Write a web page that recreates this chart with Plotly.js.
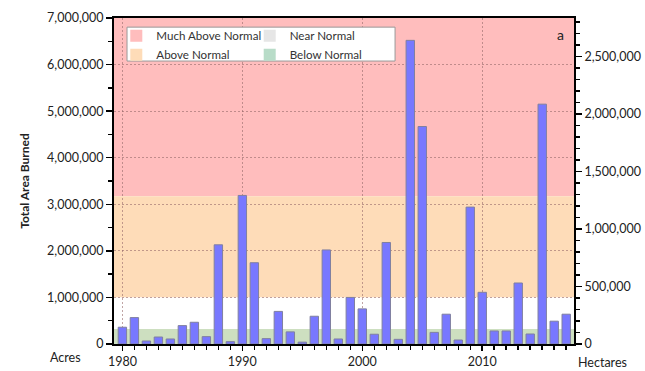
<!DOCTYPE html>
<html><head><meta charset="utf-8">
<script src="https://cdn.plot.ly/plotly-3.0.1.min.js"></script>
<style>html,body{margin:0;padding:0;background:#fff}#chart{width:645px;height:371px}</style>
</head><body><div id="chart"></div>
<script>
const years = [1980,1981,1982,1983,1984,1985,1986,1987,1988,1989,1990,1991,1992,1993,1994,1995,1996,1997,1998,1999,2000,2001,2002,2003,2004,2005,2006,2007,2008,2009,2010,2011,2012,2013,2014,2015,2016,2017];
const acres = [360000,567000,65000,150000,108000,395000,467000,158000,2130000,50000,3190000,1745000,115000,700000,260000,40000,596000,2020000,108000,1000000,754000,210000,2180000,100000,6520000,4670000,250000,640000,86000,2940000,1110000,280000,280000,1310000,215000,5150000,490000,640000];
const bandNames = ["Much Above Normal","Above Normal","Near Normal","Below Normal"];
const bandColors = ["#ffbdbd","#fedcb8","#e6e6e6","#b8dcc8"];
const bandLegend = ["legend","legend","legend2","legend2"];
const bandLow = [3170000, 1000000, 320000, 0];
const bandHigh = [7000000, 3170000, 1000000, 320000];
const bandFill = ["#ffbdbd","#fedcb8","#ffffff","#cddfc0"];
const ACRES_PER_HA = 2.47105;
const yMax = 7000000;

const traces = [];
bandNames.forEach((n,i)=>{
  traces.push({type:'bar', x:[null], y:[null], name:n, legend:bandLegend[i], marker:{color:bandColors[i]}, showlegend:true, hoverinfo:'skip'});
});
traces.push({type:'bar', x:years, y:acres, width:0.7, showlegend:false,
  marker:{color:'#7878ff', line:{color:'#8080a0', width:1}}});
traces.push({type:'scatter', x:[years[0]], y:[0], yaxis:'y2', mode:'markers', marker:{opacity:0}, showlegend:false, hoverinfo:'skip'});

const shapes = bandNames.map((n,i)=>({type:'rect', xref:'paper', yref:'y', x0:0, x1:1, y0:bandLow[i], y1:bandHigh[i], fillcolor:bandFill[i], line:{width:0}, layer:'below'}));
// legend frame
shapes.push({type:'rect', xref:'paper', yref:'paper', x0:0.0283, x1:0.611, y0:0.868, y1:0.972, fillcolor:'#ffffff', line:{color:'#999', width:1}, layer:'above'});

const gridCol = 'rgba(150,105,105,0.6)';
const font = {family:'Lato, "Open Sans", sans-serif', size:12.5, color:'#222'};
const legCommon = {orientation:'v', yanchor:'top', xanchor:'left', bgcolor:'rgba(0,0,0,0)', borderwidth:0, font:{size:11.6, color:'#333'}, itemwidth:30, traceorder:'normal'};
const layout = {
  width:645, height:371,
  margin:{l:114, r:71, t:18, b:27},
  paper_bgcolor:'#fff', plot_bgcolor:'#fff',
  font:font, barmode:'overlay', bargap:0,
  shapes:shapes,
  xaxis:{range:[1979.3,2017.65], tick0:1980, dtick:10, ticks:'outside', ticklen:5, tickwidth:1.5, tickcolor:'#000',
    showline:true, linecolor:'#000', linewidth:2, mirror:true, zeroline:false,
    showgrid:true, gridcolor:gridCol, griddash:'2px,2px', gridwidth:1,
    minor:{dtick:1, tick0:1980, ticks:'outside', ticklen:4, tickcolor:'#000', showgrid:false},
    tickfont:{size:12.5}},
  yaxis:{range:[0,yMax], dtick:1000000, tickformat:',d', ticks:'outside', ticklen:6, tickwidth:1.5, tickcolor:'#000',
    showline:true, linecolor:'#000', linewidth:2, zeroline:false,
    showgrid:true, gridcolor:gridCol, griddash:'2px,2px', gridwidth:1,
    minor:{dtick:500000, ticks:'outside', ticklen:4, tickcolor:'#000', showgrid:false},
    title:{text:'<b>Total Area Burned</b>', font:{size:12}, standoff:15}, tickfont:{size:12.5}},
  yaxis2:{overlaying:'y', side:'right', range:[0,yMax/ACRES_PER_HA], dtick:500000, tickformat:',d',
    ticks:'outside', ticklen:6, tickwidth:1.5, tickcolor:'#000', showline:true, linecolor:'#000', linewidth:2,
    showgrid:false, zeroline:false,
    minor:{dtick:100000, ticks:'outside', ticklen:4, tickcolor:'#000', showgrid:false}, tickfont:{size:12.5}},
  legend: Object.assign({}, legCommon, {x:0.005, y:0.99}),
  legend2: Object.assign({}, legCommon, {x:0.295, y:0.99}),
  annotations:[
    {text:'a', xref:'paper', yref:'paper', x:0.97, y:0.95, xanchor:'center', yanchor:'middle', showarrow:false, font:{size:14}},
    {text:'Acres', xref:'paper', yref:'paper', x:-0.105, y:-0.04, xanchor:'center', yanchor:'middle', showarrow:false, font:{size:12.5}},
    {text:'Hectares', xref:'paper', yref:'paper', x:1.063, y:-0.058, xanchor:'center', yanchor:'middle', showarrow:false, font:{size:12.5}}
  ]
};
Plotly.newPlot('chart', traces, layout, {displayModeBar:false, staticPlot:true});
</script></body></html>
